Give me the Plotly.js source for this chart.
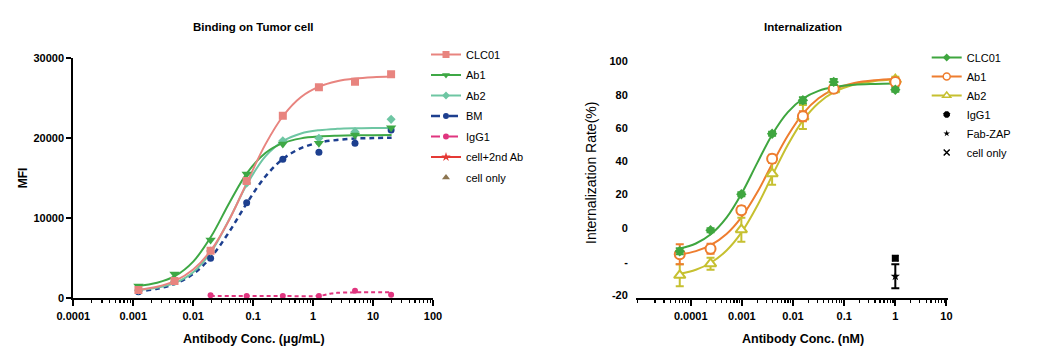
<!DOCTYPE html>
<html><head><meta charset="utf-8">
<script src="https://cdn.plot.ly/plotly-3.0.1.min.js"></script>
<style>html,body{margin:0;padding:0;background:#fff}#chart{width:1042px;height:358px}</style>
</head><body><div id="chart"></div>
<script>
// ---------- Left panel: Binding on Tumor cell ----------
const bindConc   = [0.00122, 0.00488, 0.0195, 0.078, 0.3125, 1.25, 5, 20];
const bindCLC01  = [1040, 2160, 5950, 14660, 22830, 26370, 27080, 28000];
const bindAb1    = [1540, 3040, 7290, 15540, 19290, 19370, 20410, 21330];
const bindAb2    = [1000, 2100, 5900, 14400, 19700, 20000, 20830, 22370];
const bindBM     = [830, 2080, 5000, 11950, 17370, 18250, 19370, 21040];
const iggConc    = [0.0195, 0.078, 0.3125, 1.25, 5, 20];
const bindIgG1   = [370, 300, 280, 300, 950, 450];

// fitted curves
const fitConcL   = [0.00115, 0.0025, 0.005, 0.01, 0.02, 0.04, 0.08, 0.16, 0.32, 0.63, 1.26, 2.5, 5, 10, 20.4];
const fitCLC01   = [1030, 1440, 2180, 3590, 6050, 9830, 14580, 19240, 22850, 25160, 26450, 27130, 27470, 27640, 27720];
const fitAb1     = [1540, 1940, 2790, 4590, 7750, 11920, 15700, 18160, 19420, 19990, 20230, 20330, 20380, 20390, 20400];
const fitAb2     = [1060, 1330, 1930, 3260, 5850, 9890, 14340, 17750, 19690, 20610, 21010, 21180, 21250, 21280, 21290];
const fitBM      = [860, 1200, 1830, 3050, 5180, 8330, 11990, 15230, 17470, 18770, 19460, 19790, 19960, 20030, 20070];
const fitIggConc = [0.0195, 0.08, 0.32, 1.26, 1.6, 2.0, 2.5, 5, 20];
const fitIgG1    = [280, 280, 280, 300, 450, 600, 680, 740, 750];

const leftXTickVals = [0.0001, 0.001, 0.01, 0.1, 1, 10, 100];
const leftXTickText = ['0.0001', '0.001', '0.01', '0.1', '1', '10', '100'];
const leftYTickVals = [0, 10000, 20000, 30000];
const leftYTickText = ['0', '10000', '20000', '30000'];

// ---------- Right panel: Internalization ----------
const intConc    = [0.000061, 0.000244, 0.000977, 0.0039, 0.0156, 0.0625, 1];
const intCLC01   = [3.5, 14, 32, 62.3, 79, 88.2, 84.3];
const errCLC01   = [1.5, 1, 1, 1, 1.5, 1.5, 1];
const intAb1     = [2, 4.8, 24, 49.8, 71, 84.8, 88.2];
const errAb1     = [5, 2.5, 2, 2, 2.5, 1.5, 2];
const intAb2     = [-8.5, -2.7, 14.3, 42.3, 70.7, 84.3, 89.3];
const errAb2     = [5.5, 3, 6, 5.5, 6, 1.5, 1.5];
const ctrlConc   = [1];
const intIgG1    = [0];
const intFabZAP  = [-9];
const errFabZAP  = [6];
const intCellOnly= [0];

const fitConcR   = [0.000061, 0.000126, 0.000251, 0.000501, 0.001, 0.002, 0.00398, 0.00794, 0.0158, 0.0316, 0.0631, 0.158, 0.398, 1.0];
const fitIntCLC01= [4.9, 7.4, 12.1, 20.3, 32.6, 47.7, 62.2, 73.1, 79.9, 83.7, 85.6, 86.8, 87.2, 87.4];
const fitIntAb1  = [1.9, 3.6, 6.7, 12.1, 20.8, 33.0, 47.5, 61.4, 72.5, 80.0, 84.5, 87.6, 89.0, 89.6];
const fitIntAb2  = [-7.7, -5.7, -2.1, 3.9, 13.2, 26.3, 41.7, 56.8, 69.1, 77.7, 83.1, 86.9, 88.6, 89.5];

const rightXTickVals = [0.0001, 0.001, 0.01, 0.1, 1, 10];
const rightXTickText = ['0.0001', '0.001', '0.01', '0.1', '1', '10'];
const rightYTickVals = [-20, 0, 20, 40, 60, 80, 100];
// labels in the picture sit at shifted heights
const rightYLabelVals = [98.65, 81.5, 65.15, 48.65, 32, 15.15, -1.85, -18.5];
const rightYLabelText = ['100', '80', '60', '40', '20', '0', '-', '-20'];

// ---------- colours ----------
const C = {
  clc01L: '#E8847F', ab1L: '#3EA845', ab2L: '#6EC6A3', bm: '#1D3F8F', igg: '#E0357F',
  cell2: '#E53935', cellOnly: '#8C7550',
  clc01R: '#3FA63F', ab1R: '#EE7D2F', ab2R: '#C6C030', black: '#000000'
};

function minorVals(lo, hi) {
  const v = [];
  for (let d = lo; d <= hi; d++) for (let m = 2; m <= 9; m++) v.push(m * Math.pow(10, d));
  return v;
}

const traces = [];
function curve(x, y, color, dash, xa, ya, w) {
  traces.push({x: x, y: y, xaxis: xa, yaxis: ya, mode: 'lines', showlegend: false, hoverinfo: 'skip',
    line: {color: color, width: w || 2, dash: dash || 'solid', shape: 'spline', smoothing: 1}});
}
function pts(x, y, color, symbol, size, xa, ya, err, open) {
  const t = {x: x, y: y, xaxis: xa, yaxis: ya, mode: 'markers', showlegend: false,
    marker: {color: open ? 'rgba(255,255,255,1)' : color, symbol: symbol, size: size,
      line: {color: color, width: open ? 2 : 0}}};
  if (err) t.error_y = {type: 'data', array: err, visible: true, color: color, thickness: 2, width: 4};
  traces.push(t);
}
let gi = 0;
function leg(name, color, symbol, size, dash, legend, xa, ya, showLine, open, lw) {
  traces.push({x: [null], y: [null], xaxis: xa, yaxis: ya, name: name, legend: legend, legendgroup: 'g' + (gi++),
    mode: showLine ? 'lines+markers' : 'markers',
    line: {color: color, width: lw || 2, dash: dash || 'solid'},
    marker: {color: open ? 'rgba(255,255,255,1)' : color, symbol: symbol, size: size,
      line: {color: color, width: open ? 1.5 : 0}}});
}

// left curves + points
curve(fitIggConc, fitIgG1, C.igg, '4px,3px', 'x', 'y', 2);
curve(fitConcL, fitBM, C.bm, '5px,4px', 'x', 'y', 2.5);
curve(fitConcL, fitAb2, C.ab2L, 'solid', 'x', 'y', 2);
curve(fitConcL, fitAb1, C.ab1L, 'solid', 'x', 'y', 2);
curve(fitConcL, fitCLC01, C.clc01L, 'solid', 'x', 'y', 2);
pts(iggConc, bindIgG1, C.igg, 'circle', 6, 'x', 'y');
pts(bindConc, bindBM, C.bm, 'circle', 7, 'x', 'y');
pts(bindConc, bindAb2, C.ab2L, 'diamond', 7, 'x', 'y');
pts(bindConc, bindAb1, C.ab1L, 'triangle-down', 9, 'x', 'y');
pts(bindConc, bindCLC01, C.clc01L, 'square', 8, 'x', 'y');

// right curves + points (on the overlaying axis y3, same range as y2)
curve(fitConcR, fitIntAb2, C.ab2R, 'solid', 'x2', 'y3', 2);
curve(fitConcR, fitIntAb1, C.ab1R, 'solid', 'x2', 'y3', 2);
curve(fitConcR, fitIntCLC01, C.clc01R, 'solid', 'x2', 'y3', 2);
pts(intConc, intAb2, C.ab2R, 'triangle-up', 10, 'x2', 'y3', errAb2, true);
pts(intConc, intAb1, C.ab1R, 'circle', 10, 'x2', 'y3', errAb1, true);
pts(intConc, intCLC01, C.clc01R, 'diamond', 8, 'x2', 'y3', errCLC01);
pts(ctrlConc, intCellOnly, C.black, 'x-thin', 6, 'x2', 'y3');
pts(ctrlConc, intIgG1, C.black, 'square', 7, 'x2', 'y3');
pts(ctrlConc, intFabZAP, C.black, 'star', 7, 'x2', 'y3', errFabZAP);

// legends
leg('CLC01', C.clc01L, 'square', 7, 'solid', 'legend', 'x', 'y', true);
leg('Ab1', C.ab1L, 'triangle-down', 7, 'solid', 'legend', 'x', 'y', true);
leg('Ab2', C.ab2L, 'diamond', 6, 'solid', 'legend', 'x', 'y', true);
leg('BM', C.bm, 'circle', 6, 'dash', 'legend', 'x', 'y', true, false, 2.5);
leg('IgG1', C.igg, 'circle', 6, 'dash', 'legend', 'x', 'y', true);
leg('cell+2nd Ab', C.cell2, 'star', 7, 'solid', 'legend', 'x', 'y', true);
leg('cell only', C.cellOnly, 'triangle-up', 7, 'solid', 'legend', 'x', 'y', false);

leg('CLC01', C.clc01R, 'diamond', 6, 'solid', 'legend2', 'x2', 'y3', true);
leg('Ab1', C.ab1R, 'circle', 7, 'solid', 'legend2', 'x2', 'y3', true, true);
leg('Ab2', C.ab2R, 'triangle-up', 7, 'solid', 'legend2', 'x2', 'y3', true, true);
leg('IgG1', C.black, 'octagon', 7, 'solid', 'legend2', 'x2', 'y3', false);
leg('Fab-ZAP', C.black, 'star', 5, 'solid', 'legend2', 'x2', 'y3', false);
leg('cell only', C.black, 'x-thin', 6, 'solid', 'legend2', 'x2', 'y3', false);
traces.forEach(t => { if (t.marker && t.marker.symbol === 'x-thin') t.marker.line = {color: '#000', width: 1.5}; });

const W = 1042, H = 358;
const FONT = 'Liberation Sans, Arial, sans-serif';
const tickFont = {family: FONT, size: 11, color: '#000', weight: 'bold'};
const yDom = [(H - 298.3) / H, (H - 58.3) / H];

const axBase = {showline: true, linecolor: '#000', linewidth: 2, ticks: 'outside', ticklen: 5, tickwidth: 2,
  tickcolor: '#000', showgrid: false, zeroline: false, tickfont: tickFont, fixedrange: true};

const layout = {
  width: W, height: H, margin: {l: 0, r: 0, t: 0, b: 0}, paper_bgcolor: '#fff', plot_bgcolor: 'rgba(0,0,0,0)',
  font: {family: FONT, color: '#000'},
  xaxis: Object.assign({}, axBase, {domain: [73.3 / W, 433 / W], type: 'log', range: [-4, 2], anchor: 'y',
    tickmode: 'array', tickvals: leftXTickVals, ticktext: leftXTickText, ticklen: 6,
    minor: {tickmode: 'array', tickvals: minorVals(-4, 1), ticks: 'outside', ticklen: 3, tickwidth: 1.2, tickcolor: '#000'}}),
  yaxis: Object.assign({}, axBase, {domain: yDom, range: [0, 30000], anchor: 'x',
    tickmode: 'array', tickvals: leftYTickVals, ticktext: leftYTickText}),
  xaxis2: Object.assign({}, axBase, {domain: [636 / W, 948 / W], type: 'log', range: [-5.07, 1.03], anchor: 'y2',
    tickmode: 'array', tickvals: rightXTickVals, ticktext: rightXTickText, ticklen: 6,
    minor: {tickmode: 'array', tickvals: minorVals(-6, 0), ticks: 'outside', ticklen: 3, tickwidth: 1.2, tickcolor: '#000'}}),
  yaxis2: Object.assign({}, axBase, {domain: yDom, range: [-20, 100], anchor: 'x2',
    tickmode: 'array', tickvals: rightYTickVals, showticklabels: false}),
  yaxis3: Object.assign({}, axBase, {domain: yDom, range: [-20, 100], anchor: 'x2', overlaying: 'y2', side: 'left',
    showline: false, tickcolor: 'rgba(0,0,0,0)', tickmode: 'array', tickvals: rightYLabelVals, ticktext: rightYLabelText}),
  legend: {x: 426 / W, xanchor: 'left', y: 1 - 40 / H, yanchor: 'top', bgcolor: 'rgba(0,0,0,0)',
    font: {family: FONT, size: 11, color: '#000'}, itemclick: false, tracegroupgap: 1.5, traceorder: 'grouped'},
  legend2: {x: 926.7 / W, xanchor: 'left', y: 1 - 43 / H, yanchor: 'top', bgcolor: 'rgba(0,0,0,0)',
    font: {family: FONT, size: 11, color: '#000'}, itemclick: false, tracegroupgap: 0, traceorder: 'grouped'},
  annotations: [
    {text: 'Binding on Tumor cell', x: 253.5 / W, y: 1 - 26.7 / H, xref: 'paper', yref: 'paper', showarrow: false,
      xanchor: 'center', yanchor: 'middle', font: {family: FONT, size: 11.5, weight: 'bold', color: '#000'}},
    {text: 'Internalization', x: 803.3 / W, y: 1 - 26.7 / H, xref: 'paper', yref: 'paper', showarrow: false,
      xanchor: 'center', yanchor: 'middle', font: {family: FONT, size: 11.5, weight: 'bold', color: '#000'}},
    {text: 'Antibody Conc. (μg/mL)', x: 254 / W, y: 1 - 339 / H, xref: 'paper', yref: 'paper', showarrow: false,
      xanchor: 'center', yanchor: 'middle', font: {family: FONT, size: 12.5, weight: 'bold', color: '#000'}},
    {text: 'Antibody Conc. (nM)', x: 803.3 / W, y: 1 - 339 / H, xref: 'paper', yref: 'paper', showarrow: false,
      xanchor: 'center', yanchor: 'middle', font: {family: FONT, size: 12.5, weight: 'bold', color: '#000'}},
    {text: 'MFI', x: 23.3 / W, y: 1 - 178 / H, xref: 'paper', yref: 'paper', showarrow: false, textangle: -90,
      xanchor: 'center', yanchor: 'middle', font: {family: FONT, size: 12, weight: 'bold', color: '#000'}},
    {text: 'Internalization Rate(%)', x: 591.7 / W, y: 1 - 173.3 / H, xref: 'paper', yref: 'paper', showarrow: false, textangle: -90,
      xanchor: 'center', yanchor: 'middle', font: {family: FONT, size: 14, color: '#000'}}
  ]
};

Plotly.newPlot('chart', traces, layout, {staticPlot: true, displayModeBar: false});
</script></body></html>
